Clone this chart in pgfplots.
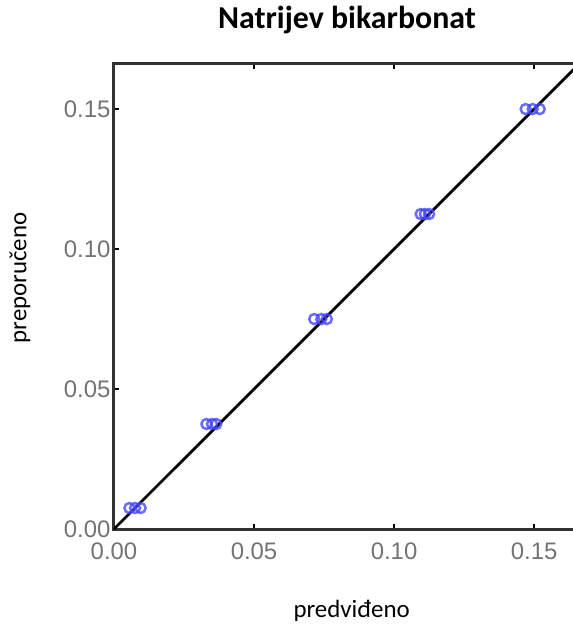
\documentclass[border=0pt]{standalone}
\usepackage{fontspec}
\setmainfont{Carlito}
\newfontfamily\arial{Liberation Sans}
\usepackage{pgfplots}
\pgfplotsset{compat=1.18}
\definecolor{ptblue}{RGB}{70,70,255}
\definecolor{ticktext}{RGB}{115,115,115}
\begin{document}
\begin{tikzpicture}[x=1bp,y=1bp]
\path[use as bounding box] (-114,-96) rectangle (459,529);
\begin{axis}[
  at={(0,0)}, anchor=south west,
  scale only axis, width=466bp, height=465bp,
  xmin=0, xmax=0.1664, ymin=0, ymax=0.1661,
  xtick={0,0.05,0.10,0.15}, ytick={0,0.05,0.10,0.15},
  /pgf/number format/fixed, /pgf/number format/fixed zerofill,
  /pgf/number format/precision=2,
  /pgf/number format/assume math mode=true,
  tick label style={font=\arial\fontsize{24}{24}\selectfont, text=ticktext},
  xticklabel style={yshift=-10bp},
  tick align=inside, major tick length=5bp,
  tick style={black, line width=1.5bp},
  axis line style={draw={rgb,255:red,50;green,50;blue,50}, line width=3bp},
  title={Natrijev bikarbonat},
  title style={at={(axis description cs:0.5,1)}, anchor=base, yshift=30bp,
    font=\bfseries\fontsize{32}{32}\selectfont},
  xlabel={predviđeno},
  xlabel style={at={(axis description cs:0.51,0)}, anchor=base, yshift=-88bp,
    font=\fontsize{25}{25}\selectfont},
  ylabel={preporučeno},
  ylabel style={at={(axis description cs:-0.2017,0.54)}, anchor=center,
    font=\fontsize{25}{25}\selectfont},
]
\addplot[only marks, mark=o, mark size=5bp, ptblue, line width=2.5bp, opacity=0.8] coordinates {
(0.0055,0.0075) (0.0075,0.0075) (0.0095,0.0075)
(0.0330,0.0375) (0.0350,0.0375) (0.0365,0.0375)
(0.0715,0.075) (0.0740,0.075) (0.0760,0.075)
(0.1095,0.1125) (0.1110,0.1125) (0.1125,0.1125)
(0.1470,0.15) (0.1495,0.15) (0.1520,0.15)
};
\addplot[black, line width=2.8bp] coordinates {(0,0) (0.17,0.17)};
\end{axis}
\end{tikzpicture}
\end{document}
